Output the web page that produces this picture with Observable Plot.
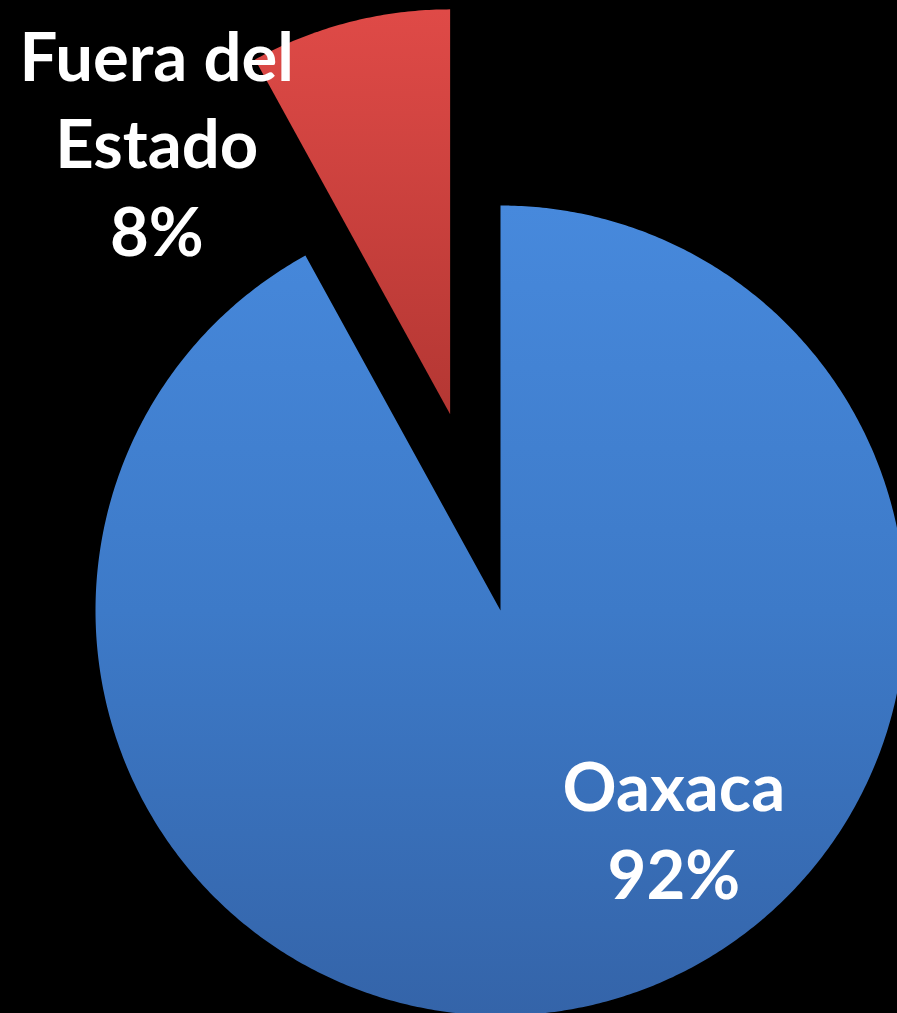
<!DOCTYPE html>
<html>
<head>
<meta charset="utf-8">
<script src="https://cdn.jsdelivr.net/npm/d3@7"></script>
<script src="https://cdn.jsdelivr.net/npm/@observablehq/plot@0.6"></script>
<style>
  html, body { margin: 0; padding: 0; background: #000; }
  #chart { width: 897px; height: 1013px; overflow: hidden; }
</style>
</head>
<body>
<div id="chart"></div>
<script>
// ---- data ----
const categories = ["Oaxaca", "Fuera del Estado"];
const values = [92, 8];
const labelLines = ["Oaxaca\n92%", "Fuera del\nEstado\n8%"];

// ---- layout ----
const W = 897, H = 1013;
const R = 405;                    // pie radius (data units = px)
const explode = [0, 0.5];         // fraction of R each slice is pulled out
const gradIds = ["gBlue", "gRed"];
const labelShift = [[123, 92], [-243, 38]];

const arcs = d3.pie().sort(null).value(d => d)(values);

// polygon points for each slice, computed from the pie angles
const rows = [];
const centroids = [];
arcs.forEach((a, i) => {
  const mid = (a.startAngle + a.endAngle) / 2;
  const ox = explode[i] * R * Math.sin(mid);
  const oy = explode[i] * R * Math.cos(mid);
  rows.push({slice: categories[i], x: ox, y: oy});
  const n = Math.max(8, Math.ceil((a.endAngle - a.startAngle) / (Math.PI / 360)));
  for (let k = 0; k <= n; k++) {
    const t = a.startAngle + (a.endAngle - a.startAngle) * k / n;
    rows.push({slice: categories[i], x: ox + R * Math.sin(t), y: oy + R * Math.cos(t)});
  }
  centroids.push({slice: categories[i], text: labelLines[i],
    x: ox + 0.5 * R * Math.sin(mid), y: oy + 0.5 * R * Math.cos(mid)});
});

const marks = [];
categories.forEach((c, i) => {
  marks.push(Plot.line(rows.filter(r => r.slice === c), {
    x: "x", y: "y", curve: "linear-closed",
    fill: `url(#${gradIds[i]})`, stroke: "none"
  }));
});
centroids.forEach((c, i) => {
  marks.push(Plot.text([c], {
    x: "x", y: "y", text: "text",
    dx: labelShift[i][0], dy: labelShift[i][1],
    lineAnchor: "bottom", lineHeight: 1.31,
    fill: "white", fontSize: 67, fontWeight: "bold",
    fontFamily: "Lato, 'Open Sans', sans-serif", textAnchor: "middle"
  }));
});

const chart = Plot.plot({
  width: W, height: H, margin: 0,
  x: {domain: [-500, 397], axis: null},
  y: {domain: [-403, 610], axis: null},
  style: {background: "#000", overflow: "hidden"},
  marks
});

// gradients for the slices
const svg = d3.select(chart);
const defs = svg.insert("defs", ":first-child");
const gradStops = [
  [["0%", "#4789dc"], ["50%", "#3d7ac8"], ["100%", "#3464a9"]],
  [["0%", "#df4a47"], ["100%", "#b43733"]]
];
gradIds.forEach((id, i) => {
  const g = defs.append("linearGradient").attr("id", id)
    .attr("x1", 0).attr("y1", 0).attr("x2", 0).attr("y2", 1);
  gradStops[i].forEach(([o, col]) => g.append("stop").attr("offset", o).attr("stop-color", col));
});

document.getElementById("chart").appendChild(chart);
</script>
</body>
</html>
